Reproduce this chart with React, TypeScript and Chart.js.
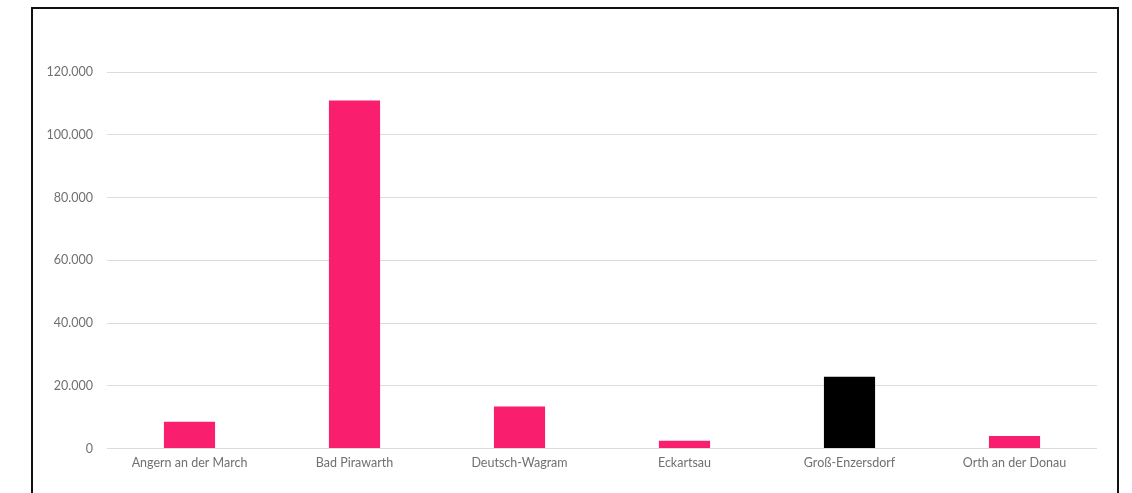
import React, { useEffect, useRef } from "react";
import { Chart, registerables } from "chart.js";

Chart.register(...registerables);

const categories = [
  "Angern an der March",
  "Bad Pirawarth",
  "Deutsch-Wagram",
  "Eckartsau",
  "Groß-Enzersdorf",
  "Orth an der Donau",
];
const values = [8500, 110900, 13400, 2500, 22900, 4000];
const barColors = ["#FA1E6E", "#FA1E6E", "#FA1E6E", "#FA1E6E", "#000000", "#FA1E6E"];
const yTickLabels = ["0", "20.000", "40.000", "60.000", "80.000", "100.000", "120.000"];

export default function App() {
  const ref = useRef<HTMLCanvasElement | null>(null);

  useEffect(() => {
    document.body.style.margin = "0";
    const ctx = ref.current!;
    const chart = new Chart(ctx, {
      type: "bar",
      data: {
        labels: categories,
        datasets: [
          {
            data: values,
            backgroundColor: barColors,
            borderWidth: 0,
            categoryPercentage: 1,
            barPercentage: 0.31,
          },
        ],
      },
      options: {
        animation: false,
        responsive: false,
        maintainAspectRatio: false,
        layout: { padding: { top: 72, right: 35, bottom: 0, left: 0 } },
        plugins: { legend: { display: false }, title: { display: false }, tooltip: { enabled: false } },
        scales: {
          x: {
            grid: { display: false, drawTicks: false },
            border: { display: false },
            ticks: {
              color: "#707070",
              font: { family: "Lato, 'Open Sans', sans-serif", size: 12.5 },
              padding: 7,
              maxRotation: 0,
            },
            afterFit: (scale: any) => {
              scale.height = 44.5;
            },
          },
          y: {
            min: 0,
            max: 120000,
            grid: { color: "#dcdcdc", lineWidth: 1, drawTicks: false },
            border: { display: false },
            ticks: {
              stepSize: 20000,
              color: "#707070",
              font: { family: "Lato, 'Open Sans', sans-serif", size: 12.5 },
              padding: 14,
              callback: (_v: any, i: number) => yTickLabels[i],
            },
            afterFit: (scale: any) => {
              scale.width = 107;
            },
          },
        },
      },
    });
    return () => chart.destroy();
  }, []);

  return (
    <div style={{ position: "relative", width: 1132, height: 493, overflow: "hidden", background: "#fff" }}>
      <div
        style={{
          position: "absolute",
          left: 31,
          top: 7,
          width: 1088,
          height: 520,
          border: "2px solid #111",
          boxSizing: "border-box",
        }}
      />
      <canvas
        ref={ref}
        width={1132}
        height={493}
        style={{ position: "absolute", left: 0, top: 0, width: 1132, height: 493 }}
      />
    </div>
  );
}
